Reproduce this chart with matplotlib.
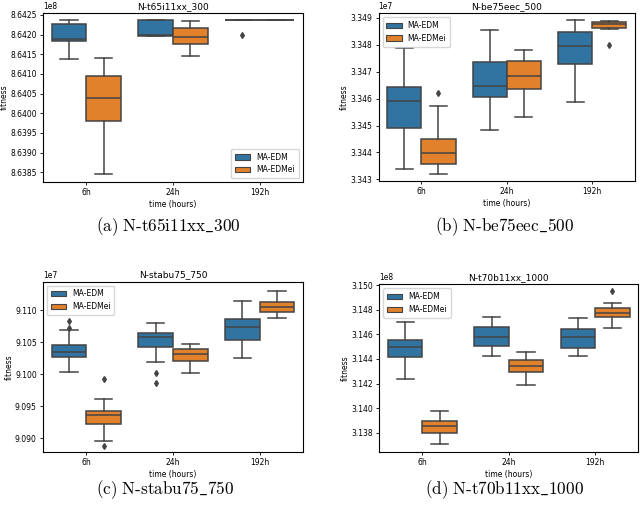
import matplotlib

matplotlib.use("Agg")
import matplotlib.pyplot as plt
from matplotlib.patches import Patch
from matplotlib.ticker import MultipleLocator

plt.rcParams["font.family"] = "DejaVu Sans"
plt.rcParams["mathtext.fontset"] = "cm"

TIMES = ["6h", "24h", "192h"]
METHODS = ["MA-EDM", "MA-EDMei"]
COLORS = ["#3274a1", "#e1812c"]
EDGE = "#444444"

# five-number summaries per time: (whislo, q1, med, q3, whishi), scaled values
T65_EDM = [(8.64138, 8.64184, 8.64188, 8.64226, 8.64236),
           (8.64197, 8.64197, 8.64198, 8.64236, 8.64236),
           (8.64236, 8.64236, 8.64236, 8.64236, 8.64236)]
T65_EDMEI = [(8.63846, 8.63979, 8.64039, 8.64096, 8.64141),
             (8.64145, 8.64176, 8.64194, 8.64216, 8.64234),
             (8.64236, 8.64236, 8.64236, 8.64236, 8.64236)]
T65_EDM_FLIERS = [[], [], [8.64199]]
T65_EDMEI_FLIERS = [[], [], []]

BE75_EDM = [(3.34339, 3.34490, 3.34591, 3.34644, 3.34787),
            (3.34483, 3.34606, 3.34648, 3.34736, 3.34855),
            (3.34586, 3.34729, 3.34796, 3.34849, 3.34893)]
BE75_EDMEI = [(3.34321, 3.34357, 3.34399, 3.34450, 3.34573),
              (3.34533, 3.34637, 3.34683, 3.34740, 3.34781),
              (3.34860, 3.34862, 3.34878, 3.34884, 3.34890)]
BE75_EDM_FLIERS = [[], [], []]
BE75_EDMEI_FLIERS = [[3.34620], [], [3.34800]]

STABU_EDM = [(9.10029, 9.10273, 9.10351, 9.10449, 9.10688),
             (9.10195, 9.10429, 9.10579, 9.10647, 9.10797),
             (9.10257, 9.10532, 9.10735, 9.10860, 9.11140)]
STABU_EDMEI = [(9.08958, 9.09223, 9.09358, 9.09431, 9.09613),
               (9.10013, 9.10205, 9.10314, 9.10392, 9.10465),
               (9.10875, 9.10974, 9.11052, 9.11130, 9.11301)]
STABU_EDM_FLIERS = [[9.10829, 9.10725], [9.10023, 9.09857], []]
STABU_EDMEI_FLIERS = [[9.09930, 9.08886], [], []]

T70_EDM = [(3.14233, 3.14418, 3.14496, 3.14556, 3.14702),
           (3.14420, 3.14502, 3.14580, 3.14659, 3.14740),
           (3.14426, 3.14485, 3.14580, 3.14642, 3.14735)]
T70_EDMEI = [(3.13705, 3.13795, 3.13857, 3.13898, 3.13979),
             (3.14187, 3.14296, 3.14342, 3.14388, 3.14453),
             (3.14653, 3.14737, 3.14770, 3.14810, 3.14856)]
T70_EDM_FLIERS = [[], [], []]
T70_EDMEI_FLIERS = [[], [], [3.14954]]

PANELS = [
    dict(title="N-t65i11xx_300", caption=r"(a)\ N\text{-}t65i11xx\_300", exp=8,
         edm=T65_EDM, edmei=T65_EDMEI, f_edm=T65_EDM_FLIERS, f_edmei=T65_EDMEI_FLIERS,
         ylim=(8.63825, 8.64255), step=0.0005, legend="lower right",
         rect=[0.0672, 0.641, 0.406, 0.3333], cap=(0.2625, 0.552)),
    dict(title="N-be75eec_500", caption=r"(b)\ N\text{-}be75eec\_500", exp=7,
         edm=BE75_EDM, edmei=BE75_EDMEI, f_edm=BE75_EDM_FLIERS, f_edmei=BE75_EDMEI_FLIERS,
         ylim=(3.34294, 3.34917), step=0.001, legend="upper left",
         rect=[0.5917, 0.643, 0.4005, 0.3308], cap=(0.789, 0.552)),
    dict(title="N-stabu75_750", caption=r"(c)\ N\text{-}stabu75\_750", exp=7,
         edm=STABU_EDM, edmei=STABU_EDMEI, f_edm=STABU_EDM_FLIERS, f_edmei=STABU_EDMEI_FLIERS,
         ylim=(9.08792, 9.11441), step=0.005, legend="upper left",
         rect=[0.0672, 0.109, 0.406, 0.3353], cap=(0.258, 0.0335)),
    dict(title="N-t70b11xx_1000", caption=r"(d)\ N\text{-}t70b11xx\_1000", exp=8,
         edm=T70_EDM, edmei=T70_EDMEI, f_edm=T70_EDM_FLIERS, f_edmei=T70_EDMEI_FLIERS,
         ylim=(3.13646, 3.15005), step=0.002, legend="upper left",
         rect=[0.5927, 0.109, 0.4047, 0.330], cap=(0.789, 0.0335)),
]


def make_stats(summary, fliers, scale):
    stats = []
    for (lo, q1, med, q3, hi), fl in zip(summary, fliers):
        stats.append(dict(whislo=lo * scale, q1=q1 * scale, med=med * scale,
                          q3=q3 * scale, whishi=hi * scale,
                          fliers=[v * scale for v in fl]))
    return stats


def draw_panel(fig, p):
    ax = fig.add_axes(p["rect"])
    scale = 10 ** p["exp"]
    groups = [(p["edm"], p["f_edm"], -0.2, COLORS[0]),
              (p["edmei"], p["f_edmei"], 0.2, COLORS[1])]
    for summary, fliers, shift, color in groups:
        ax.bxp(make_stats(summary, fliers, scale),
               positions=[i + shift for i in range(len(TIMES))],
               widths=0.4, patch_artist=True, showcaps=True,
               boxprops=dict(facecolor=color, edgecolor=EDGE, linewidth=1.1),
               medianprops=dict(color=EDGE, linewidth=1.1),
               whiskerprops=dict(color=EDGE, linewidth=1.1),
               capprops=dict(color=EDGE, linewidth=1.1),
               flierprops=dict(marker="d", markersize=3, markerfacecolor=EDGE,
                               markeredgecolor=EDGE, linestyle="none"),
               capwidths=0.2)
    ax.set_xlim(-0.5, len(TIMES) - 0.5)
    ax.set_xticks(range(len(TIMES)))
    ax.set_xticklabels(TIMES)
    ax.set_ylim(p["ylim"][0] * scale, p["ylim"][1] * scale)
    ax.yaxis.set_major_locator(MultipleLocator(p["step"] * scale))
    ax.ticklabel_format(axis="y", style="sci", scilimits=(0, 0), useOffset=False)
    ax.yaxis.get_offset_text().set_fontsize(5.5)
    ax.tick_params(labelsize=5.5, length=2.5, width=0.6, pad=2)
    for s in ax.spines.values():
        s.set_linewidth(0.8)
    ax.set_title(p["title"], fontsize=6.5, pad=3)
    ax.set_xlabel("time (hours)", fontsize=5.5, labelpad=2)
    ax.set_ylabel("fitness", fontsize=5.5, labelpad=1)
    handles = [Patch(facecolor=c, edgecolor=EDGE, linewidth=0.8, label=m)
               for c, m in zip(COLORS, METHODS)]
    ax.legend(handles=handles, loc=p["legend"], fontsize=5.5, frameon=True,
              borderpad=0.5, labelspacing=0.5)
    fig.text(p["cap"][0], p["cap"][1], "$\\mathrm{" + p["caption"] + "}$",
             ha="center", va="center", fontsize=12.3)


fig = plt.figure(figsize=(6.4, 5.07), dpi=100)
for panel in PANELS:
    draw_panel(fig, panel)
fig.savefig("out.png", dpi=100)
